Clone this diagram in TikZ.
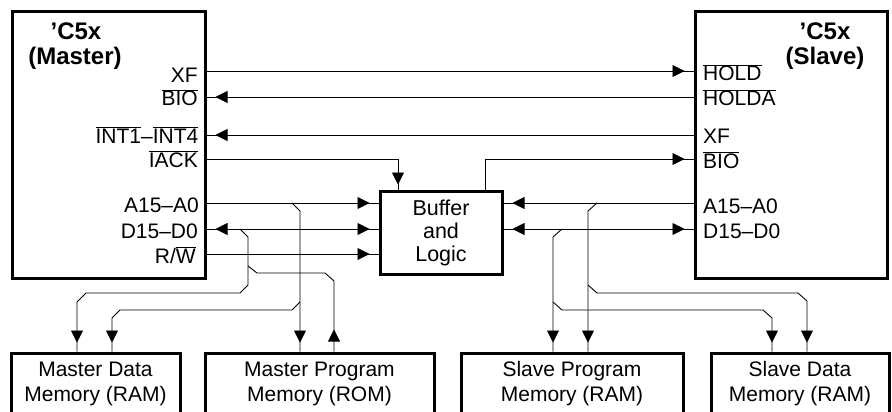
\documentclass[tikz,border=0pt]{standalone}
\usepackage{fontspec}
\setmainfont{Liberation Sans}
\usetikzlibrary{arrows.meta,decorations.markings,calc}
\newcommand\ovl[1]{\ensuremath{\overline{\mbox{#1}}}}
\begin{document}
\begin{tikzpicture}[x=1pt,y=-1pt,
  >={Triangle[length=12pt,width=12pt]},
  box/.style={draw, line width=3pt, inner sep=0pt, anchor=center},
  conn/.style={line width=0.9pt},
  sig/.style={inner sep=0pt, font=\fontsize{21}{23}\selectfont},
  ttl/.style={inner sep=0pt, anchor=base, font=\fontsize{24}{26}\selectfont\bfseries},
  memtxt/.style={inner sep=0pt, align=center, font=\fontsize{21}{25}\selectfont},
  aat/.style={postaction={decorate,decoration={markings,mark=at position #1 with {\arrow{>}}}}},
  aend/.style={aat=-#1}, aend/.default=9pt,
  astart/.style={postaction={decorate,decoration={markings,mark=at position #1 with {\arrowreversed{>}}}}},
  astart/.default=9pt]
\useasboundingbox (0,0) rectangle (892,412);
\begin{scope}
\clip (0,0) rectangle (892,412);
% boxes
\node[box, minimum width=193, minimum height=266] (master) at (108.5,145) {};
\node[box, minimum width=192, minimum height=266] (slave) at (791,145) {};
\node[box, minimum width=122, minimum height=83, align=center, font=\fontsize{21.5}{23}\selectfont] (buffer) at (441,232.5) {Buffer\\and\\Logic};
\node[box, minimum width=169, minimum height=120] (mdata) at (95.5,413) {};
\node[box, minimum width=229, minimum height=120] (mprog) at (319.5,413) {};
\node[box, minimum width=222, minimum height=120] (sprog) at (572,413) {};
\node[box, minimum width=178, minimum height=120] (sdata) at (800,413) {};
\end{scope}
% memory texts
\node[memtxt] (mdatat) at (95.5,384) {Master Data\\Memory (RAM)};
\node[memtxt] (mprogt) at (319.5,384) {Master Program\\Memory (ROM)};
\node[memtxt] (sprogt) at (572,384) {Slave Program\\Memory (RAM)};
\node[memtxt] (sdatat) at (800,384) {Slave Data\\Memory (RAM)};
% titles
\node[ttl] (mt1) at (76,40) {’C5x};
\node[ttl] (mt2) at (75,65) {(Master)};
\node[ttl] (st1) at (825,40) {’C5x};
\node[ttl] (st2) at (825,65) {(Slave)};
% master labels
\node[sig, anchor=base east] (mXF) at (198,82) {XF};
\node[sig, anchor=base east] (mBIO) at (198,106) {\ovl{BIO}};
\node[sig, anchor=base east] (mINT) at (198.5,143) {\ovl{INT1}–\ovl{INT4}};
\node[sig, anchor=base east] (mIACK) at (198,167) {\ovl{IACK}};
\node[sig, anchor=base east] (mA) at (199,212) {A15–A0};
\node[sig, anchor=base east] (mD) at (198,238) {D15–D0};
\node[sig, anchor=base east] (mRW) at (196,263) {R/\ovl{W}};
% slave labels
\node[sig, anchor=base west] (sHOLD) at (703,81) {\ovl{HOLD}};
\node[sig, anchor=base west] (sHOLDA) at (703,106) {\ovl{HOLDA}};
\node[sig, anchor=base west] (sXF) at (703,143) {XF};
\node[sig, anchor=base west] (sBIO) at (703,168) {\ovl{BIO}};
\node[sig, anchor=base west] (sA) at (703,213) {A15–A0};
\node[sig, anchor=base west] (sD) at (703,238) {D15–D0};
% level coordinates
\coordinate (y71) at (0,71);
\coordinate (y97) at (0,97);
\coordinate (y135) at (0,135);
\coordinate (y159) at (0,159);
\coordinate (y203) at (0,203);
\coordinate (y229) at (0,229);
\coordinate (y254) at (0,254);
\coordinate (xIack) at (398,0);
\coordinate (xBio) at (485,0);
% control connectors
\draw[conn, aend] (master.east |- y71) -- (slave.west |- y71);
\draw[conn, aend] (slave.west |- y97) -- (master.east |- y97);
\draw[conn, aend] (slave.west |- y135) -- (master.east |- y135);
\draw[conn, aend=5pt] (master.east |- y159) -| (xIack |- buffer.north);
\draw[conn, aend] (xBio |- buffer.north) |- (slave.west |- y159);
% buses
\draw[conn, aend] (master.east |- y203) -- (buffer.west |- y203);
\draw[conn, aend, astart] (master.east |- y229) -- (buffer.west |- y229);
\draw[conn, aend] (master.east |- y254) -- (buffer.west |- y254);
\draw[conn, aend] (slave.west |- y203) -- (buffer.east |- y203);
\draw[conn, aend, astart] (slave.west |- y229) -- (buffer.east |- y229);
% master branches
\coordinate (mA0) at (292,203); \coordinate (mA1) at (300,211);
\draw[conn, aend] (mA0) -- (mA1) -- (mA1 |- mprog.north);
\coordinate (mA2) at (300,302); \coordinate (mA3) at (292,310);
\coordinate (mA4) at (120,310); \coordinate (mA5) at (112,318);
\draw[conn, aend] (mA2) -- (mA3) -- (mA4) -- (mA5) -- (mA5 |- mdata.north);
\coordinate (mD0) at (240,229); \coordinate (mD1) at (248,237);
\coordinate (mD2) at (248,285); \coordinate (mD3) at (240,293);
\coordinate (mD4) at (86,293); \coordinate (mD5) at (77,302);
\draw[conn, aend] (mD0) -- (mD1) -- (mD2) -- (mD3) -- (mD4) -- (mD5) -- (mD5 |- mdata.north);
\coordinate (mD6) at (248,266); \coordinate (mD7) at (257,273);
\coordinate (mD8) at (325,273); \coordinate (mD9) at (334,281);
\draw[conn, aat=22pt] (mD9 |- mprog.north) -- (mD9) -- (mD8) -- (mD7) -- (mD6);
% slave branches
\coordinate (sA0) at (597,203); \coordinate (sA1) at (588,211);
\draw[conn, aend] (sA0) -- (sA1) -- (sA1 |- sprog.north);
\coordinate (sD0) at (562,229); \coordinate (sD1) at (553,237);
\draw[conn, aend] (sD0) -- (sD1) -- (sD1 |- sprog.north);
\coordinate (sD2) at (553,302); \coordinate (sD3) at (562,310);
\coordinate (sD4) at (763,310); \coordinate (sD5) at (772,318);
\draw[conn, aend] (sD2) -- (sD3) -- (sD4) -- (sD5) -- (sD5 |- sdata.north);
\coordinate (sA2) at (588,285); \coordinate (sA3) at (597,293);
\coordinate (sA4) at (798,293); \coordinate (sA5) at (807,301);
\draw[conn, aend] (sA2) -- (sA3) -- (sA4) -- (sA5) -- (sA5 |- sdata.north);
\end{tikzpicture}
\end{document}
